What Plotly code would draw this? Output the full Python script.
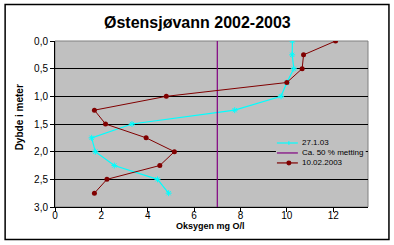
import plotly.graph_objects as go

# Data
depth = [0.0, 0.25, 0.5, 0.75, 1.0, 1.25, 1.5, 1.75, 2.0, 2.25, 2.5, 2.75]
oxy_27_1_03 = [10.24, 10.23, 10.3, 10.0, 9.75, 7.75, 3.32, 1.58, 1.74, 2.56, 4.42, 4.9]
oxy_10_02_2003 = [12.1, 10.72, 10.66, 10.0, 4.8, 1.7, 2.18, 3.93, 5.15, 4.52, 2.24, 1.7]
metting_x = [7, 7]
metting_y = [0, 3]
series_names = ["27.1.03", "Ca. 50 % metting", "10.02.2003"]
series_colors = ["#00FFFF", "#800080", "#800000"]

W, H = 394, 245
L, R, T, B = 54.5, 368.3, 41, 207.5
pw, ph = R - L, B - T

def px(x):
    return (x - L) / pw

def py(y):
    return (B - y) / ph

fig = go.Figure()
fig.add_trace(go.Scatter(
    x=oxy_27_1_03, y=depth, name=series_names[0], mode="lines+markers",
    line=dict(color=series_colors[0], width=1.2),
    marker=dict(symbol="asterisk-open", size=5, color=series_colors[0],
                line=dict(color=series_colors[0], width=1)),
))
fig.add_trace(go.Scatter(
    x=metting_x, y=metting_y, name=series_names[1], mode="lines",
    line=dict(color=series_colors[1], width=1.2),
))
fig.add_trace(go.Scatter(
    x=oxy_10_02_2003, y=depth, name=series_names[2], mode="lines+markers",
    line=dict(color=series_colors[2], width=1),
    marker=dict(symbol="circle", size=5, color=series_colors[2]),
))

font = "Liberation Sans, Arial, sans-serif"

shapes = [
    dict(type="rect", xref="paper", yref="paper", x0=0, x1=1, y0=0, y1=1,
         line=dict(color="#808080", width=1), layer="between"),
    dict(type="rect", xref="paper", yref="paper",
         x0=px(4.5), x1=px(389.3), y0=py(4.5), y1=py(240),
         line=dict(color="black", width=1.5)),
    # custom legend box
    dict(type="rect", xref="paper", yref="paper",
         x0=px(276), x1=px(366), y0=py(137), y1=py(169),
         fillcolor="#c0c0c0", line=dict(width=0), layer="above"),
]
annotations = [
    dict(text="<b>Østensjøvann 2002-2003</b>", xref="paper", yref="paper",
         x=px(197), y=py(22.7), showarrow=False, xanchor="center",
         yanchor="middle", font=dict(size=16, family=font)),
    dict(text="<b>Oksygen mg O/l</b>", xref="paper", yref="paper",
         x=px(210), y=py(227), showarrow=False, xanchor="center",
         yanchor="middle", font=dict(size=9, family=font)),
    dict(text="<b>Dybde i meter</b>", xref="paper", yref="paper",
         x=px(19), y=py(118), showarrow=False, xanchor="center",
         yanchor="middle", textangle=-90, font=dict(size=10, family=font)),
]

leg_y = [143.3, 153.3, 163.3]
for i, (name, col) in enumerate(zip(series_names, series_colors)):
    yy = py(leg_y[i])
    shapes.append(dict(type="line", xref="paper", yref="paper",
                       x0=px(277), x1=px(298), y0=yy, y1=yy,
                       line=dict(color=col, width=1.2), layer="above"))
    annotations.append(dict(text=name, xref="paper", yref="paper",
                            x=px(300), y=yy, showarrow=False, xanchor="left",
                            yanchor="middle", font=dict(size=8, family=font)))
# legend markers
cy = leg_y[0]
shapes.append(dict(type="line", xref="paper", yref="paper",
                   x0=px(289), x1=px(289), y0=py(cy - 2), y1=py(cy + 2),
                   line=dict(color=series_colors[0], width=1), layer="above"))
ry = leg_y[2]
shapes.append(dict(type="circle", xref="paper", yref="paper",
                   x0=px(286.5), x1=px(291.5), y0=py(ry - 2.5), y1=py(ry + 2.5),
                   fillcolor=series_colors[2], line=dict(width=0), layer="above"))

fig.update_layout(
    width=W, height=H,
    margin=dict(l=L, r=W - R, t=T, b=H - B, pad=0),
    paper_bgcolor="white", plot_bgcolor="#c0c0c0",
    separators=",.",
    font=dict(family=font, size=10, color="black"),
    showlegend=False,
    xaxis=dict(range=[0, 13.5], tickvals=[0, 2, 4, 6, 8, 10, 12],
               showgrid=False, zeroline=False, showline=True, linecolor="black",
               linewidth=1, ticks="outside", ticklen=4, tickcolor="black",
               ticklabelstandoff=-5, tickfont=dict(size=10)),
    yaxis=dict(range=[3, 0], tickvals=[0, 0.5, 1, 1.5, 2, 2.5, 3],
               tickformat=".1f", showgrid=True, gridcolor="black", gridwidth=1,
               zeroline=False, showline=True, linecolor="black", linewidth=1,
               ticks="outside", ticklen=4, tickcolor="black",
               tickfont=dict(size=10)),
    shapes=shapes,
    annotations=annotations,
)
fig.write_html("out.html")
